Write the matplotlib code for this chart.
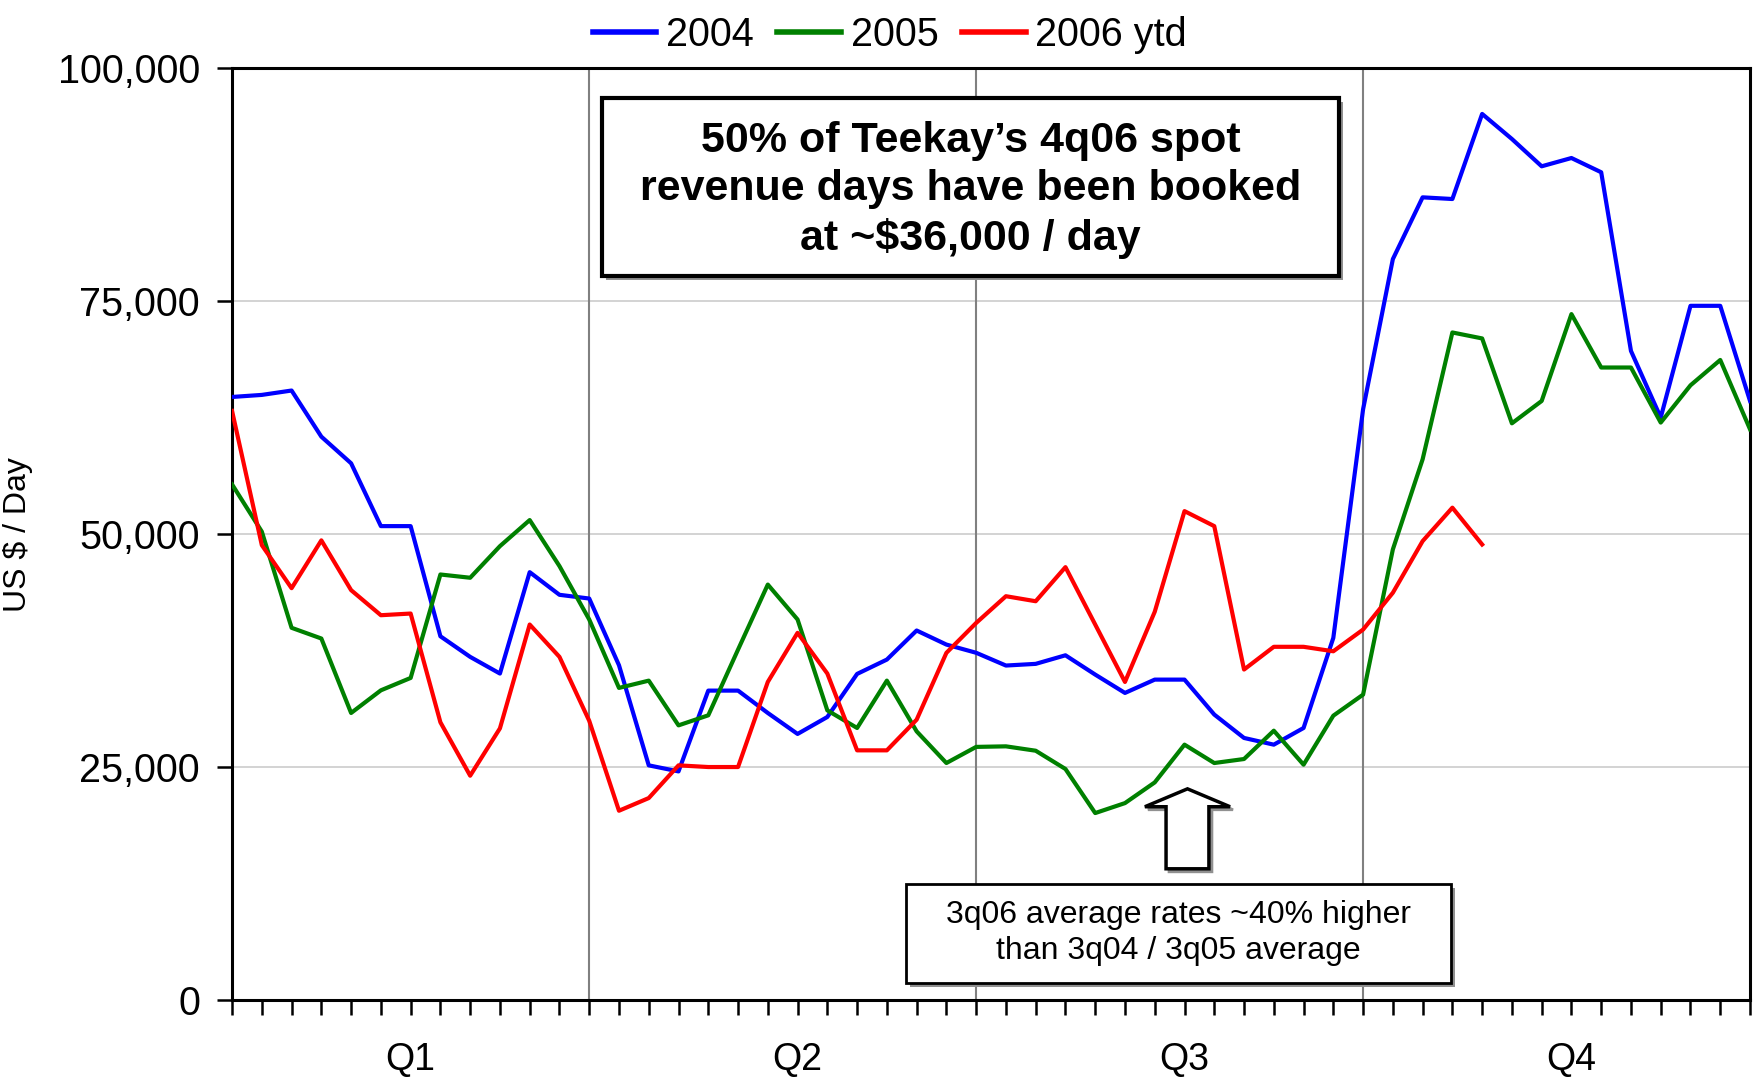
import numpy as np
import matplotlib
matplotlib.use("Agg")
import matplotlib.pyplot as plt
import matplotlib.transforms as mtransforms
from matplotlib.patches import Rectangle, Polygon

plt.rcParams['font.family'] = ['Liberation Sans', 'DejaVu Sans']

# weekly spot rates, US$ / day
rates_2004 = [64750, 64970, 65440, 60490, 57630, 50890, 50890, 39070, 36860, 35070, 45950, 43520, 43120,
              35960, 25220, 24570, 33240, 33240, 30840, 28590, 30410, 35030, 36570, 39690, 38180, 37300,
              35930, 36110, 37030, 34960, 32990, 34420, 34420, 30670, 28160, 27440, 29230, 38900, 63430,
              79540, 86170, 85990, 95120, 92430, 89500, 90390, 88860, 69690, 62540, 74530, 74530, 64320]
rates_2005 = [55370, 50300, 39980, 38830, 30840, 33270, 34600, 45700, 45350, 48740, 51540, 46600, 40870,
              33530, 34310, 29510, 30590, 37640, 44620, 40870, 31120, 29230, 34310, 28870, 25470, 27200,
              27260, 26790, 24830, 20100, 21170, 23390, 27440, 25470, 25900, 28940, 25290, 30550, 32810,
              48390, 58060, 71670, 71030, 61920, 64320, 73640, 67910, 67910, 62000, 66000, 68720, 61280]
rates_2006 = [63250, 48850, 44230, 49360, 44020, 41330, 41510, 29840, 24110, 29190, 40330, 36860, 30000,
              20350, 21710, 25220, 25040, 25040, 34170, 39440, 35070, 26830, 26830, 30120, 37290, 40500,
              43370, 42830, 46490, 40330, 34170, 41700, 52500, 50890, 35500, 37940, 37940, 37460, 39790,
              43740, 49280, 52870, 48920]

series_names = ['2004', '2005', '2006 ytd']
series_colors = ['#0000ff', '#008000', '#ff0000']
quarter_labels = ['Q1', 'Q2', 'Q3', 'Q4']
quarter_label_weeks = [6, 19, 32, 45]
quarter_breaks = [12, 25, 38]
y_ticks = [0, 25000, 50000, 75000, 100000]

fig = plt.figure(figsize=(17.62, 10.78), dpi=100)
ax = fig.add_axes([0.1317, 0.072, 0.8615, 0.8645])

for vals, name, col in zip([rates_2004, rates_2005, rates_2006], series_names, series_colors):
    ax.plot(np.arange(len(vals)), vals, color=col, lw=3, label=name, zorder=3)

n_weeks = len(rates_2004)
ax.set_xlim(0, n_weeks - 1)
ax.set_ylim(0, 100000)

# gridlines and quarter separators
for yv in y_ticks[1:-1]:
    ax.axhline(yv, color='#d0d0d0', lw=1.3, zorder=1)
for xb in quarter_breaks:
    ax.axvline(xb, color='#808080', lw=1.5, zorder=1)

ax.set_yticks(y_ticks)
ax.set_yticklabels(['{:,}'.format(v) for v in y_ticks], fontsize=28.5)
ax.set_xticks(np.arange(n_weeks))
xlabels = [''] * n_weeks
for w, q in zip(quarter_label_weeks, quarter_labels):
    xlabels[w] = q
ax.set_xticklabels(xlabels, fontsize=27)
ax.tick_params(axis='x', direction='out', length=11, width=1.8, pad=19)
ax.tick_params(axis='y', direction='out', length=11, width=1.8, pad=12)
for s in ax.spines.values():
    s.set_linewidth(2.2)
    s.set_color('black')

ax.set_ylabel('US $ / Day', fontsize=23)
ax.yaxis.set_label_coords(-0.131, 0.5)

leg = fig.legend(loc='upper center', bbox_to_anchor=(0.505, 1.018), ncol=3, frameon=False,
                 fontsize=28.5, handlelength=1.6, handletextpad=0.25, columnspacing=0.6)
for h in leg.get_lines():
    h.set_linewidth(4)

shadow = ax.transData + mtransforms.ScaledTranslation(4 / 100, -4 / 100, fig.dpi_scale_trans)

# headline box
bx0, bx1, by0, by1 = 12.43, 37.2, 77700, 96850
ax.add_patch(Rectangle((bx0, by0), bx1 - bx0, by1 - by0, facecolor='#909090', edgecolor='none',
                       transform=shadow, zorder=4))
ax.add_patch(Rectangle((bx0, by0), bx1 - bx0, by1 - by0, facecolor='white', edgecolor='black',
                       lw=3, zorder=5))
ax.text((bx0 + bx1) / 2, (by0 + by1) / 2 - 300,
        '50% of Teekay\u2019s 4q06 spot\nrevenue days have been booked\nat ~$36,000 / day',
        ha='center', va='center', fontsize=31, fontweight='bold', linespacing=1.28, zorder=6)

# lower note box
nx0, nx1, ny0, ny1 = 22.65, 40.96, 1900, 12520
ax.add_patch(Rectangle((nx0, ny0), nx1 - nx0, ny1 - ny0, facecolor='#909090', edgecolor='none',
                       transform=shadow, zorder=4))
ax.add_patch(Rectangle((nx0, ny0), nx1 - nx0, ny1 - ny0, facecolor='white', edgecolor='black',
                       lw=2, zorder=5))
ax.text((nx0 + nx1) / 2, (ny0 + ny1) / 2,
        '3q06 average rates ~40% higher\nthan 3q04 / 3q05 average',
        ha='center', va='center', fontsize=23, linespacing=1.28, zorder=6)

# hollow up arrow
tip_x, tip_y, head_y, base_y = 32.1, 22700, 20780, 14120
hw, sw = 1.43, 0.72
arrow_pts = [(tip_x, tip_y), (tip_x + hw, head_y), (tip_x + sw, head_y), (tip_x + sw, base_y),
             (tip_x - sw, base_y), (tip_x - sw, head_y), (tip_x - hw, head_y)]
ax.add_patch(Polygon(arrow_pts, closed=True, facecolor='#909090', edgecolor='#909090', lw=2,
                     transform=ax.transData + mtransforms.ScaledTranslation(3 / 100, -3 / 100, fig.dpi_scale_trans),
                     zorder=4))
ax.add_patch(Polygon(arrow_pts, closed=True, facecolor='white', edgecolor='black', lw=2.5, zorder=5))

fig.savefig('out.png', dpi=100)
